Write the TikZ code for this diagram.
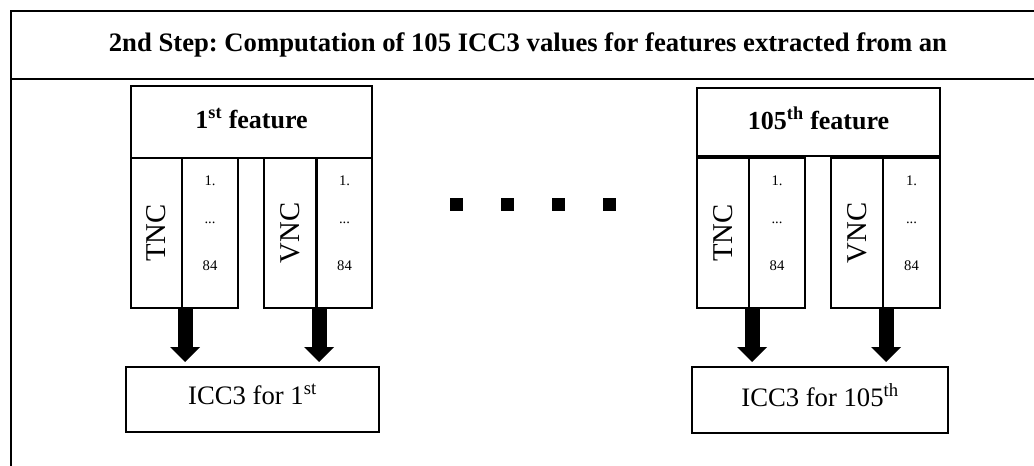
\documentclass[tikz,border=0pt]{standalone}
\usepackage{fontspec}
\setmainfont{Liberation Serif}
\usetikzlibrary{arrows.meta}
\frenchspacing
\begin{document}
\begin{tikzpicture}[x=0.75pt,y=-0.75pt,
  box/.style={draw,line width=1.6pt,inner sep=0pt,anchor=north west},
  cell/.style={box,minimum width=#1*0.75pt,minimum height=150*0.75pt},
  titletxt/.style={font=\bfseries\fontsize{20}{23}\selectfont},
  feattxt/.style={font=\bfseries\fontsize{19.5}{22}\selectfont},
  side/.style={font=\fontsize{21.5}{24}\selectfont,rotate=90},
  idx/.style={font=\fontsize{11}{12}\selectfont},
  resulttxt/.style={font=\fontsize{20}{23}\selectfont},
  bigarrow/.style={line width=15*0.75pt,
    -{Triangle[width=29*0.75pt,length=15*0.75pt]}},
  dot/.style={fill,minimum size=13*0.75pt,inner sep=0pt}]
\useasboundingbox (0,0) rectangle (1034,465);

% outer frame and header band
\draw[line width=1.6pt] (1040,11) -- (11,11) -- (11,470);
\draw[line width=1.6pt] (11,79) -- (1040,79);
\node[titletxt] (title) at (528,45)
  {2nd Step: Computation of 105 ICC3 values for features extracted from an};

% first feature
\node[box,minimum width=241*0.75pt,minimum height=72*0.75pt] (f1) at (130,85) {};
\node[feattxt] at ([yshift=4*0.75pt]f1.center) {1\textsuperscript{st} feature};
\node[cell=51] (t1) at (130,157) {};
\node[cell=56] (n1) at (181,157) {};
\node[cell=52] (v1) at (263,157) {};
\node[cell=55] (m1) at (316,157) {};
% last feature
\node[box,minimum width=243*0.75pt,minimum height=68*0.75pt] (f2) at (696,87) {};
\node[feattxt] at ([yshift=4*0.75pt]f2.center) {105\textsuperscript{th} feature};
\node[cell=52] (t2) at (696,157) {};
\node[cell=56] (n2) at (748,157) {};
\node[cell=52] (v2) at (830,157) {};
\node[cell=57] (m2) at (882,157) {};

% column labels and index ranges
\foreach \c/\txt in {t1/TNC,v1/VNC,t2/TNC,v2/VNC}
  \node[side] at (\c.center) {\txt};
\foreach \c in {n1,m1,n2,m2}{
  \node[idx] at ([yshift=-24*0.75pt]\c.north) {1.};
  \node[idx] at ([yshift=-66*0.75pt]\c.north) {...};
  \node[idx] at ([yshift=-109*0.75pt]\c.north) {84};
}

% ellipsis between the two groups
\foreach \i/\x in {1/456,2/507,3/558,4/609}
  \node[dot] (d\i) at (\x,204) {};

% result boxes
\node[box,minimum width=253*0.75pt,minimum height=65*0.75pt] (r1) at (125,366) {};
\node[resulttxt] at ([yshift=5*0.75pt]r1.center) {ICC3 for 1\textsuperscript{st}};
\node[box,minimum width=256*0.75pt,minimum height=66*0.75pt] (r2) at (691,366) {};
\node[resulttxt] at ([yshift=5*0.75pt]r2.center) {ICC3 for 105\textsuperscript{th}};

% arrows from the column pairs down to the results
\foreach \c/\r in {t1/r1,v1/r1,t2/r2,v2/r2}
  \draw[bigarrow] ([xshift=2*0.75pt]\c.south east)
    -- ([xshift=2*0.75pt,yshift=4*0.75pt]\c.south east |- \r.north);
\end{tikzpicture}
\end{document}
